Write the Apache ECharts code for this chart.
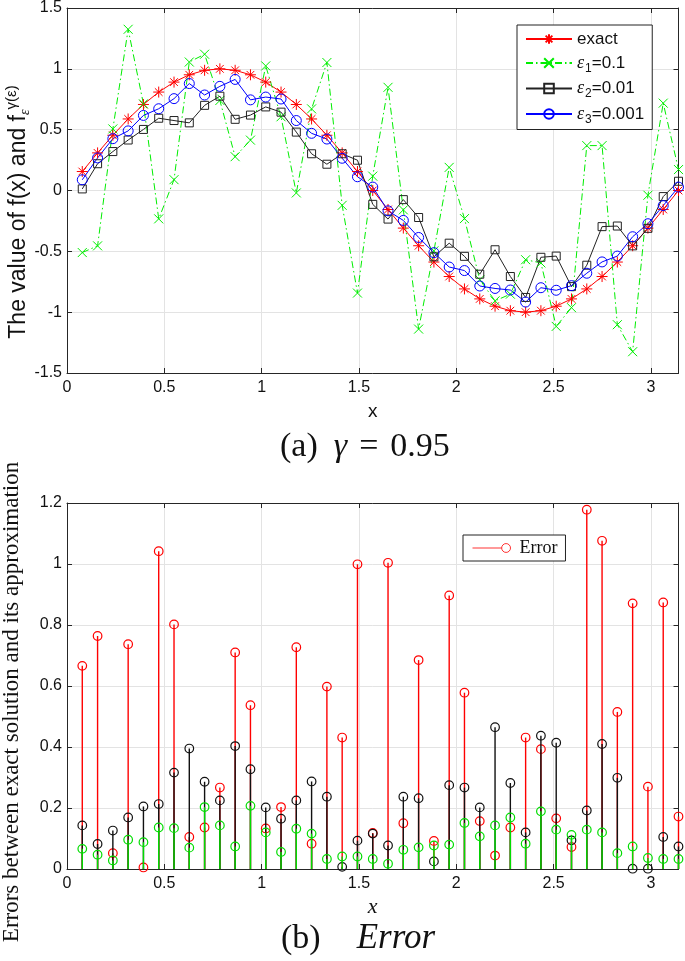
<!DOCTYPE html>
<html><head><meta charset="utf-8">
<script src="https://cdn.jsdelivr.net/npm/echarts/dist/echarts.min.js"></script>
<style>html,body{margin:0;padding:0;background:#fff}#c{width:685px;height:961px}</style>
</head><body><div id="c"></div>
<script>
// x positions (k*pi/40)
const xs = [0.0785,0.1571,0.2356,0.3142,0.3927,0.4712,0.5498,0.6283,0.7069,0.7854,
            0.8639,0.9425,1.0210,1.0996,1.1781,1.2566,1.3352,1.4137,1.4923,1.5708,
            1.6493,1.7279,1.8064,1.8850,1.9635,2.0420,2.1206,2.1991,2.2777,2.3562,
            2.4347,2.5133,2.5918,2.6704,2.7489,2.8274,2.9060,2.9845,3.0631,3.1416];
const exact = [0.156,0.309,0.454,0.588,0.707,0.809,0.891,0.951,0.988,1.000,
               0.988,0.951,0.891,0.809,0.707,0.588,0.454,0.309,0.156,0.000,
               -0.156,-0.309,-0.454,-0.588,-0.707,-0.809,-0.891,-0.951,-0.988,-1.000,
               -0.988,-0.951,-0.891,-0.809,-0.707,-0.588,-0.454,-0.309,-0.156,0.000];
const eps1 = [-0.51,-0.455,0.506,1.325,0.712,-0.233,0.089,1.056,1.12,0.74,
              0.278,0.414,1.024,0.606,-0.02,0.671,1.052,-0.122,-0.843,0.118,
              0.848,-0.159,-1.139,-0.496,0.19,-0.231,-0.734,-0.907,-0.852,-0.569,
              -0.595,-1.117,-0.963,0.369,0.369,-1.103,-1.325,-0.039,0.718,0.172];
const eps2 = [0.013,0.22,0.32,0.415,0.502,0.594,0.575,0.556,0.70,0.775,
              0.585,0.62,0.687,0.644,0.48,0.302,0.216,0.302,0.249,-0.114,
              -0.235,-0.075,-0.222,-0.545,-0.433,-0.541,-0.688,-0.487,-0.707,-0.879,
              -0.549,-0.539,-0.79,-0.614,-0.297,-0.292,-0.455,-0.311,-0.05,0.076];
const eps3 = [0.088,0.268,0.426,0.49,0.617,0.672,0.755,0.879,0.785,0.856,
              0.913,0.745,0.768,0.752,0.575,0.47,0.423,0.265,0.113,0.028,
              -0.167,-0.246,-0.386,-0.511,-0.629,-0.658,-0.785,-0.805,-0.818,-0.917,
              -0.799,-0.82,-0.782,-0.68,-0.587,-0.539,-0.38,-0.273,-0.124,0.028];
const err1 = [0.666,0.764,0.052,0.737,0.005,1.042,0.802,0.105,0.136,0.267,
              0.71,0.537,0.133,0.203,0.727,0.083,0.598,0.431,0.999,0.118,
              1.004,0.15,0.685,0.092,0.897,0.578,0.157,0.044,0.136,0.431,
              0.393,0.166,0.072,1.178,1.076,0.515,0.871,0.27,0.874,0.172];
const err2 = [0.143,0.082,0.126,0.169,0.205,0.213,0.316,0.395,0.286,0.225,
              0.403,0.327,0.202,0.165,0.225,0.287,0.237,0.007,0.093,0.116,
              0.077,0.237,0.232,0.025,0.275,0.267,0.202,0.465,0.282,0.12,
              0.437,0.414,0.094,0.192,0.41,0.299,0.001,0.001,0.105,0.074];
const err3 = [0.066,0.047,0.028,0.096,0.088,0.136,0.134,0.07,0.203,0.143,
              0.074,0.207,0.12,0.056,0.132,0.116,0.033,0.041,0.041,0.033,
              0.017,0.063,0.071,0.077,0.08,0.151,0.107,0.143,0.169,0.083,
              0.189,0.129,0.112,0.129,0.12,0.052,0.074,0.036,0.033,0.033];
const topYTicks = [-1.5,-1,-0.5,0,0.5,1,1.5];
const botYTicks = [0,0.2,0.4,0.6,0.8,1,1.2];
const xTicks = [0,0.5,1,1.5,2,2.5,3];

const SANS = 'Liberation Sans, Arial, Helvetica, sans-serif';
const SERIF = 'Liberation Serif, Times New Roman, serif';
const AX = '#262626', GRIDC = '#e3e3e3';

function pairs(x, y){ return x.map((v,i)=>[v,y[i]]); }

function xAxisCfg(gi, pos, showLabels, nameCfg){
  const o = {
    type:'value', gridIndex:gi, position:pos, min:0, max:Math.PI, interval:0.5,
    axisLine:{show:true, onZero:false, lineStyle:{color:AX, width:1}},
    axisTick:{show:true, inside:true, length:5, lineStyle:{color:AX}},
    axisLabel:{show:showLabels, showMaxLabel:false, color:'#111', fontFamily:SANS, fontSize:16, margin:7,
      formatter: v => xTicks.indexOf(Math.round(v*1000)/1000) >= 0 ? String(v) : ''},
    splitLine:{show:showLabels, lineStyle:{color:GRIDC, width:1}}
  };
  if (nameCfg) Object.assign(o, nameCfg);
  return o;
}
function yAxisCfg(gi, pos, showLabels, mn, mx, iv, ticks){
  return {
    type:'value', gridIndex:gi, position:pos, min:mn, max:mx, interval:iv,
    axisLine:{show:true, onZero:false, lineStyle:{color:AX, width:1}},
    axisTick:{show:true, inside:true, length:5, lineStyle:{color:AX}},
    axisLabel:{show:showLabels, color:'#111', fontFamily:SANS, fontSize:16, margin:5,
      formatter: v => { const r = Math.round(v*1000)/1000; return ticks.indexOf(r) >= 0 ? String(r) : ''; }},
    splitLine:{show:showLabels, lineStyle:{color:GRIDC, width:1}}
  };
}

const ASTER = 'path://M5,0 L5,10 M0,5 L10,5 M1.5,1.5 L8.5,8.5 M1.5,8.5 L8.5,1.5';
const XMARK = 'path://M0,0 L10,10 M0,10 L10,0';
const CLEAR = 'rgba(0,0,0,0)';

function lineSeries(name, data, color, symbol, size, dash){
  return {
    type:'line', name, xAxisIndex:0, yAxisIndex:0, data:pairs(xs, data),
    symbol, symbolSize:size, symbolKeepAspect:true, showAllSymbol:true,
    lineStyle:{color, width:1, type: dash || 'solid'},
    itemStyle:{color:CLEAR, borderColor:color, borderWidth:1},
    emphasis:{disabled:true}, animation:false
  };
}

function stemSeries(name, data, color){
  return {
    type:'custom', name, xAxisIndex:2, yAxisIndex:2, data:pairs(xs, data),
    encode:{x:0, y:1}, animation:false, silent:true,
    renderItem:(params, api) => {
      const x = api.value(0), y = api.value(1);
      const p0 = api.coord([x, 0]), p1 = api.coord([x, y]);
      return {type:'group', children:[
        {type:'line', shape:{x1:p0[0], y1:p0[1], x2:p1[0], y2:p1[1]}, style:{stroke:color, lineWidth:1.4}},
        {type:'circle', shape:{cx:p1[0], cy:p1[1], r:4.3}, style:{fill:null, stroke:color, lineWidth:1.2}}
      ]};
    }
  };
}

const legendNames = {
  'exact':'exact',
  'e1':'{e|ε}{s|1}=0.1',
  'e2':'{e|ε}{s|2}=0.01',
  'e3':'{e|ε}{s|3}=0.001'
};

const chart = echarts.init(document.getElementById('c'), null, {renderer:'canvas'});
chart.setOption({
  animation:false,
  backgroundColor:'#fff',
  grid:[
    {left:67, top:5, width:611.5, height:368, show:false},
    {left:67, top:503, width:611.5, height:366, show:false}
  ],
  xAxis:[
    xAxisCfg(0,'bottom',true,{name:'x', nameLocation:'middle', nameGap:29,
      nameTextStyle:{fontFamily:SANS, fontSize:19, color:'#111'}}),
    xAxisCfg(0,'top',false),
    xAxisCfg(1,'bottom',true,{name:'x', nameLocation:'middle', nameGap:27,
      nameTextStyle:{fontFamily:SERIF, fontStyle:'italic', fontSize:22, color:'#111'}}),
    xAxisCfg(1,'top',false)
  ],
  yAxis:[
    yAxisCfg(0,'left',true,-1.5,1.5,0.5,topYTicks),
    yAxisCfg(0,'right',false,-1.5,1.5,0.5,topYTicks),
    yAxisCfg(1,'left',true,0,1.2,0.2,botYTicks),
    yAxisCfg(1,'right',false,0,1.2,0.2,botYTicks)
  ],
  legend:[
    {
      data:['exact','e1','e2','e3'], orient:'vertical', left:517, top:25,
      padding:[4,8,4,8], itemGap:4, itemWidth:46, itemHeight:12,
      backgroundColor:'#fff', borderColor:'#222', borderWidth:1, selectedMode:false,
      formatter: n => legendNames[n],
      textStyle:{fontFamily:SANS, fontSize:17, color:'#111', lineHeight:20,
        rich:{
          e:{fontFamily:SERIF, fontStyle:'italic', fontSize:18, color:'#111'},
          s:{fontFamily:SANS, fontSize:12, color:'#111', padding:[11,0,0,1]}
        }}
    },
    {
      data:[{name:'Error', icon:'path://M0,5 L33,5 M43,5 A5,5 0 1 1 33,5 A5,5 0 1 1 43,5',
             itemStyle:{color:CLEAR, borderColor:'#ff0000', borderWidth:1}}],
      left:463, top:535, padding:[4,8,4,9], itemWidth:38, itemHeight:9, itemGap:0,
      backgroundColor:'#fff', borderColor:'#222', borderWidth:1, selectedMode:false,
      textStyle:{fontFamily:SERIF, fontSize:18, color:'#111', padding:[0,0,0,4]}
    }
  ],
  series:[
    lineSeries('exact', exact, '#ff0000', ASTER, 11),
    lineSeries('e1', eps1, '#00ee00', XMARK, 9, [7,3,1.5,3]),
    lineSeries('e2', eps2, '#222222', 'rect', 8),
    lineSeries('e3', eps3, '#0000ff', 'circle', 10),
    stemSeries('err1', err1, '#ff0000'),
    stemSeries('err2', err2, '#111111'),
    stemSeries('err3', err3, '#00dd00'),
    {type:'scatter', name:'Error', xAxisIndex:2, yAxisIndex:2, data:[],
     itemStyle:{color:CLEAR, borderColor:'#ff0000', borderWidth:1}}
  ],
  graphic:[
    {type:'text', x:19, y:212, rotation:Math.PI/2, silent:true,
     style:{text:'{n|The value of f(x) and f}{sb|ε}{sp|γ(ε)}', align:'center', verticalAlign:'middle', fill:'#111',
       rich:{
         n:{fontFamily:SANS, fontSize:23, fill:'#111'},
         sb:{fontFamily:SERIF, fontStyle:'italic', fontSize:14, fill:'#111', padding:[13,0,0,0]},
         sp:{fontFamily:SANS, fontSize:15, fill:'#111', padding:[0,0,15,0]}
       }}},
    {type:'text', x:12, y:702, rotation:Math.PI/2, silent:true,
     style:{text:'Errors between exact solution and its approximation', align:'center', verticalAlign:'middle',
       fill:'#111', font:'23px Liberation Serif'}},
    {type:'text', x:280, y:447, silent:true,
     style:{text:'{t|(a)}{i|γ}{q|=}{t|0.95}', align:'left', verticalAlign:'middle', fill:'#111',
       rich:{
         t:{fontFamily:SERIF, fontSize:34, fill:'#111'},
         i:{fontFamily:SERIF, fontStyle:'italic', fontSize:34, fill:'#111', padding:[0,0,0,16]},
         q:{fontFamily:SERIF, fontSize:34, fill:'#111', padding:[0,12,0,12]}
       }}},
    {type:'text', x:281, y:939, silent:true,
     style:{text:'{t|(b)}{i|Error}', align:'left', verticalAlign:'middle', fill:'#111',
       rich:{
         t:{fontFamily:SERIF, fontSize:34, fill:'#111'},
         i:{fontFamily:SERIF, fontStyle:'italic', fontSize:35, fill:'#111', padding:[0,0,0,36]}
       }}}
  ]
});
</script>
</body></html>
